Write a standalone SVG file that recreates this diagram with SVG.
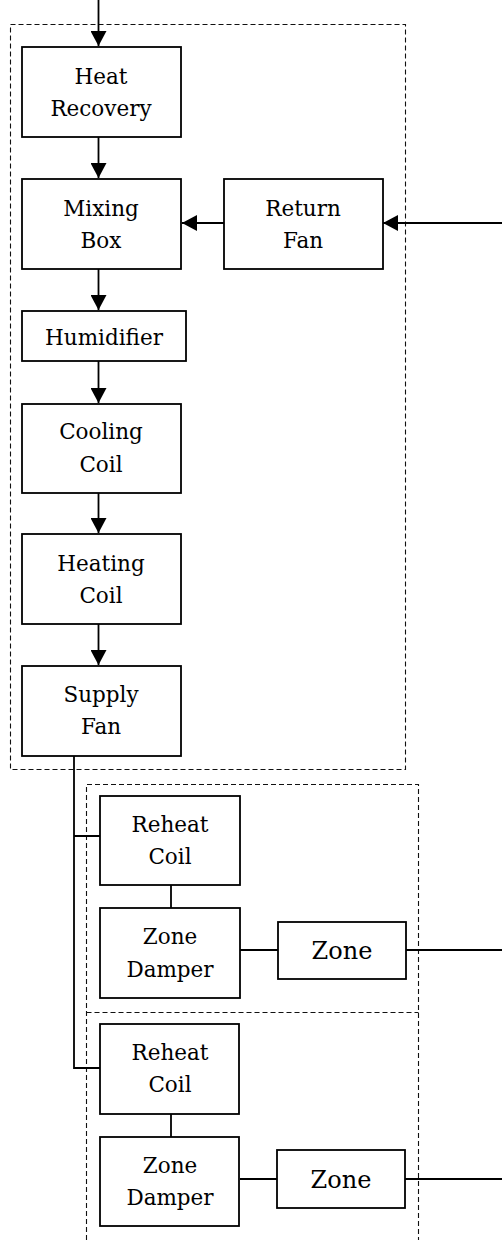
<svg xmlns="http://www.w3.org/2000/svg" width="502" height="1240" viewBox="0 0 502 1240">
<style>
.box{fill:#fff;stroke:#000;stroke-width:1.8}
.dash{fill:none;stroke:#111;stroke-width:1.1;stroke-dasharray:5 3}
.ln{fill:none;stroke:#000;stroke-width:1.8}
.t{font-family:"DejaVu Serif","Liberation Serif",serif;font-size:21.5px;text-anchor:middle;fill:#000}
.tz{font-family:"DejaVu Serif","Liberation Serif",serif;font-size:24px;text-anchor:middle;fill:#000}
</style>
<defs>
<marker id="ah" markerUnits="userSpaceOnUse" markerWidth="16" markerHeight="16" viewBox="0 0 16 16" refX="15" refY="8" orient="auto">
<path d="M0,0 L15,8 L0,16 Z" fill="#000"/>
</marker>
</defs>
<g id="groups">
<rect class="dash" x="10.5" y="24.5" width="395" height="745"/>
<path class="dash" d="M86.5,1240 V784.5 H418.5 V1240 M86.5,1012.5 H418.5"/>
</g>
<g id="connectors">
<path class="ln" d="M98.5,0 V46" marker-end="url(#ah)"/>
<path class="ln" d="M98.5,137 V178" marker-end="url(#ah)"/>
<path class="ln" d="M98.5,269 V310" marker-end="url(#ah)"/>
<path class="ln" d="M98.5,361 V403" marker-end="url(#ah)"/>
<path class="ln" d="M98.5,493 V533" marker-end="url(#ah)"/>
<path class="ln" d="M98.5,624 V665" marker-end="url(#ah)"/>
<path class="ln" d="M224,223 H182" marker-end="url(#ah)"/>
<path class="ln" d="M502,223 H383" marker-end="url(#ah)"/>
<path class="ln" d="M74,756 V1068 H100 M74,836 H100"/>
<path class="ln" d="M171,885 V908 M240,950 H278 M406,950 H502"/>
<path class="ln" d="M171,1114 V1137 M240,1179 H277 M405,1179 H502"/>
</g>
<g id="heat-recovery"><rect class="box" x="22" y="47" width="159" height="90"/><text class="t" x="101" y="84">Heat</text><text class="t" x="101" y="116">Recovery</text></g>
<g id="mixing-box"><rect class="box" x="22" y="179" width="159" height="90"/><text class="t" x="101" y="216">Mixing</text><text class="t" x="101" y="248">Box</text></g>
<g id="return-fan"><rect class="box" x="224" y="179" width="159" height="90"/><text class="t" x="303" y="216">Return</text><text class="t" x="303" y="248">Fan</text></g>
<g id="humidifier"><rect class="box" x="22" y="311" width="164" height="50"/><text class="t" x="104" y="345">Humidifier</text></g>
<g id="cooling-coil"><rect class="box" x="22" y="404" width="159" height="89"/><text class="t" x="101" y="439">Cooling</text><text class="t" x="101" y="472">Coil</text></g>
<g id="heating-coil"><rect class="box" x="22" y="534" width="159" height="90"/><text class="t" x="101" y="571">Heating</text><text class="t" x="101" y="603">Coil</text></g>
<g id="supply-fan"><rect class="box" x="22" y="666" width="159" height="90"/><text class="t" x="101" y="702">Supply</text><text class="t" x="101" y="734">Fan</text></g>
<g id="reheat-coil-1"><rect class="box" x="100" y="796" width="140" height="89"/><text class="t" x="170" y="832">Reheat</text><text class="t" x="170" y="864">Coil</text></g>
<g id="zone-damper-1"><rect class="box" x="100" y="908" width="140" height="90"/><text class="t" x="170" y="944">Zone</text><text class="t" x="170" y="977">Damper</text></g>
<g id="zone-1"><rect class="box" x="278" y="922" width="128" height="57"/><text class="tz" x="342" y="959">Zone</text></g>
<g id="reheat-coil-2"><rect class="box" x="100" y="1024" width="139" height="90"/><text class="t" x="170" y="1060">Reheat</text><text class="t" x="170" y="1092">Coil</text></g>
<g id="zone-damper-2"><rect class="box" x="100" y="1137" width="139" height="89"/><text class="t" x="170" y="1173">Zone</text><text class="t" x="170" y="1205">Damper</text></g>
<g id="zone-2"><rect class="box" x="277" y="1150" width="128" height="58"/><text class="tz" x="341" y="1188">Zone</text></g>
</svg>
